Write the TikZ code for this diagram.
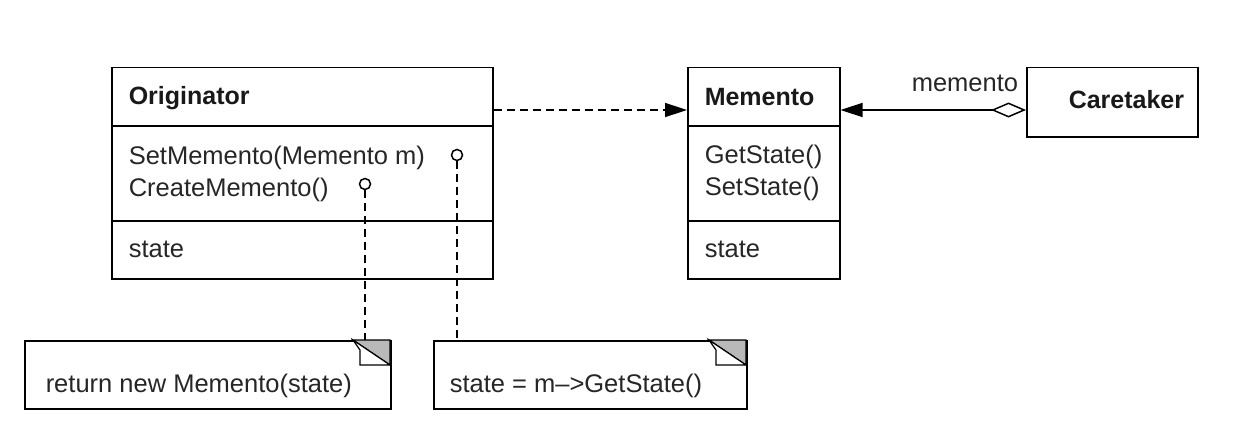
\documentclass[tikz,border=0pt]{standalone}
\usepackage{fontspec}
\setmainfont{Liberation Sans}
\usetikzlibrary{arrows.meta,calc}
\begin{document}
\begin{tikzpicture}[x=1pt,y=-1pt,line width=1.5pt,
  box/.style={draw, rectangle, anchor=north west, inner sep=0pt, line width=1.5pt},
  lbl/.style={anchor=base west, inner sep=0pt, font=\fontsize{25.5}{30}\selectfont, text=black!85},
  boldlbl/.style={anchor=base west, inner sep=0pt, font=\fontsize{25}{30}\selectfont\bfseries, text=black!90},
  dep/.style={dash pattern=on 8pt off 5pt, -{Triangle[length=22pt,width=14pt]}},
  assoc/.style={{Triangle[length=22pt,width=14pt]}-{Diamond[open,length=35pt,width=15pt,line width=1.5pt]}},
  lolli/.style={draw, circle, minimum size=11pt, inner sep=0pt, line width=1.5pt},
  stem/.style={dash pattern=on 8pt off 5pt},
  fold/.style={fill=gray!55, draw, line width=1.2pt},
  flap/.style={fill=white, draw, line width=1.2pt}
]
\useasboundingbox (0,0) rectangle (1256,444);

% Originator
\node[box, minimum width=381pt, minimum height=211pt] (orig) at (111,67) {};
\draw ($(orig.north west)+(0,59)$) -- ($(orig.north east)+(0,59)$);
\draw ($(orig.north west)+(0,154)$) -- ($(orig.north east)+(0,154)$);
\node[boldlbl] (origT) at (128,104) {Originator};
\node[lbl] (origM1) at (128,164) {SetMemento(Memento m)};
\node[lbl] (origM2) at (128,196) {CreateMemento()};
\node[lbl] (origA) at (128,257) {state};

% Memento
\node[box, minimum width=152pt, minimum height=211pt] (mem) at (687,67) {};
\draw ($(mem.north west)+(0,59)$) -- ($(mem.north east)+(0,59)$);
\draw ($(mem.north west)+(0,154)$) -- ($(mem.north east)+(0,154)$);
\node[boldlbl] (memT) at (704,105) {Memento};
\node[lbl] (memM1) at (704,163) {GetState()};
\node[lbl] (memM2) at (704,195) {SetState()};
\node[lbl] (memA) at (704,257) {state};

% Caretaker
\node[box, minimum width=171pt, minimum height=69pt] (care) at (1026,67) {};
\node[boldlbl] (careT) at (1068,108) {Caretaker};

% connectors
\draw[dep] ($(orig.north east)+(0,43)$) -- ($(mem.north west)+(0,43)$);
\draw[assoc] ($(mem.north east)+(0,43)$) -- ($(care.north west)+(0,43)$);
\node[lbl] (memlbl) at (911,92) {memento};

% notes
\node[box, minimum width=366pt, minimum height=68pt] (note1) at (24,340) {};
\filldraw[fold] (353,340) -- (390,340) -- (390,365) -- cycle;
\filldraw[flap] (353,340) -- (390,365) -- (360,365) -- (360,350) -- cycle;
\node[lbl] (note1T) at (45,392) {return new Memento(state)};

\node[box, minimum width=313pt, minimum height=68pt] (note2) at (433,340) {};
\filldraw[fold] (709,340) -- (746,340) -- (746,365) -- cycle;
\filldraw[flap] (709,340) -- (746,365) -- (716,365) -- (716,350) -- cycle;
\node[lbl] (note2T) at (449,392) {state = m–>GetState()};

% lollipops
\node[lolli] (lp1) at (365,184) {};
\node[lolli] (lp2) at (457,155) {};
\draw[stem] (lp1.south) -- (lp1.south |- note1.north);
\draw[stem] (lp2.south) -- (lp2.south |- note2.north);
\end{tikzpicture}
\end{document}
